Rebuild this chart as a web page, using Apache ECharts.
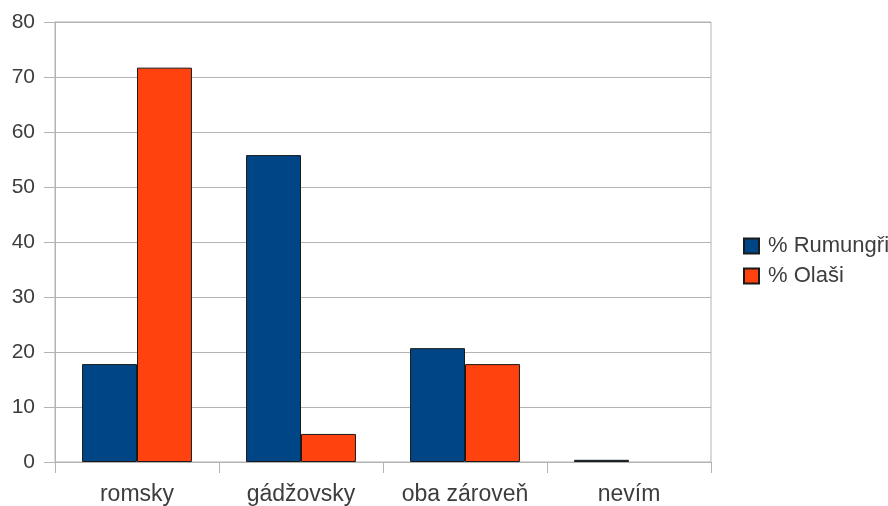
<!DOCTYPE html>
<html>
<head>
<meta charset="utf-8">
<script src="https://cdn.jsdelivr.net/npm/echarts@6/dist/echarts.min.js"></script>
<style>
  html, body { margin: 0; padding: 0; background: #fff; }
  #chart { width: 888px; height: 506px; }
</style>
</head>
<body>
<div id="chart"></div>
<script>
// Survey answers by group (percent)
const categories = ['romsky', 'gádžovsky', 'oba zároveň', 'nevím'];
const seriesNames = ['% Rumungři', '% Olaši'];
const rumungri = [17.8, 55.8, 20.7, 0.4];
const olasi = [71.7, 5.1, 17.8, 0];
const yTicks = { min: 0, max: 80, interval: 10 };

const colors = ['#004586', '#ff420e'];
const gridColor = '#b3b3b3';
const textColor = '#3d3d3d';
const fontFamily = '"Liberation Sans", Arial, sans-serif';

// zero-height bars get no outline so they leave no stray line on the baseline
function barData(values) {
  return values.map(v => v === 0 ? { value: v, itemStyle: { borderWidth: 0 } } : v);
}

const chart = echarts.init(document.getElementById('chart'), null, { renderer: 'canvas' });

chart.setOption({
  animation: false,
  backgroundColor: '#ffffff',
  textStyle: { fontFamily: fontFamily },
  grid: {
    left: 55, right: 177, top: 22, bottom: 42.5,
    show: true, borderColor: gridColor, borderWidth: 1, backgroundColor: 'transparent'
  },
  legend: {
    orient: 'vertical',
    left: 743, top: 235,
    padding: 0,
    itemWidth: 15, itemHeight: 15, itemGap: 8,
    icon: 'rect',
    data: seriesNames,
    textStyle: { fontSize: 22, color: textColor, fontFamily: fontFamily, padding: [0, 0, 0, 4] }
  },
  xAxis: {
    type: 'category',
    data: categories,
    axisLine: { show: true, lineStyle: { color: gridColor, width: 1 } },
    axisTick: { show: true, interval: 0, length: 11, lineStyle: { color: gridColor } },
    axisLabel: { interval: 0, fontSize: 23, color: textColor, margin: 21, fontFamily: fontFamily },
    splitLine: { show: false }
  },
  yAxis: {
    type: 'value',
    min: yTicks.min, max: yTicks.max, interval: yTicks.interval,
    axisLine: { show: true, lineStyle: { color: gridColor, width: 1 } },
    axisTick: { show: true, length: 11, lineStyle: { color: gridColor } },
    axisLabel: { fontSize: 21, color: textColor, margin: 20, fontFamily: fontFamily },
    splitLine: { show: true, lineStyle: { color: gridColor, width: 1 } }
  },
  series: [
    {
      name: seriesNames[0], type: 'bar', data: barData(rumungri),
      barGap: '0%', barCategoryGap: '33%',
      itemStyle: { color: colors[0], borderColor: '#1a1a1a', borderWidth: 1 }
    },
    {
      name: seriesNames[1], type: 'bar', data: barData(olasi),
      barGap: '0%', barCategoryGap: '33%',
      itemStyle: { color: colors[1], borderColor: '#1a1a1a', borderWidth: 1 }
    }
  ]
});
</script>
</body>
</html>
